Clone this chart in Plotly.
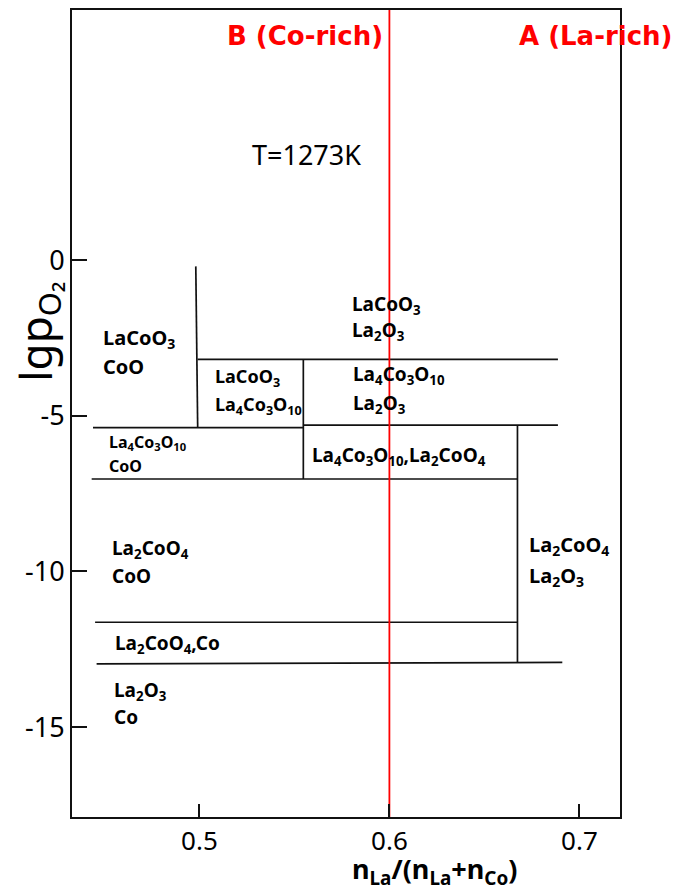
import plotly.graph_objects as go

# ---- data -------------------------------------------------------------
# phase-boundary segments (composition x, lg pO2 y)
seg_x0 = [0.4981, 0.4440, 0.4991, 0.5547, 0.5545, 0.6674, 0.4433, 0.4451, 0.4459]
seg_y0 = [-0.20, -5.38, -3.19, -3.19, -5.30, -5.30, -7.03, -11.63, -12.97]
seg_x1 = [0.4991, 0.5545, 0.6887, 0.5547, 0.6887, 0.6674, 0.6677, 0.6672, 0.6910]
seg_y1 = [-5.38, -5.38, -3.19, -7.03, -5.30, -12.91, -7.03, -11.63, -12.92]

# phase-field labels (one entry per text line)
label_text = [
    "LaCoO<sub>3</sub>", "CoO",
    "LaCoO<sub>3</sub>", "La<sub>4</sub>Co<sub>3</sub>O<sub>10</sub>",
    "La<sub>4</sub>Co<sub>3</sub>O<sub>10</sub>", "CoO",
    "LaCoO<sub>3</sub>", "La<sub>2</sub>O<sub>3</sub>",
    "La<sub>4</sub>Co<sub>3</sub>O<sub>10</sub>", "La<sub>2</sub>O<sub>3</sub>",
    "La<sub>4</sub>Co<sub>3</sub>O<sub>10</sub>,La<sub>2</sub>CoO<sub>4</sub>",
    "La<sub>2</sub>CoO<sub>4</sub>", "CoO",
    "La<sub>2</sub>CoO<sub>4</sub>,Co",
    "La<sub>2</sub>O<sub>3</sub>", "Co",
    "La<sub>2</sub>CoO<sub>4</sub>", "La<sub>2</sub>O<sub>3</sub>",
]
label_x = [0.4482, 0.4482, 0.5072, 0.5072, 0.4514, 0.4514, 0.5793, 0.5793,
           0.5798, 0.5798, 0.5582, 0.4529, 0.4529, 0.4545, 0.4540, 0.4540,
           0.6724, 0.6724]
label_y = [-2.52, -3.42, -3.76, -4.68, -5.87, -6.61, -1.43, -2.28,
           -3.69, -4.62, -6.29, -9.27, -10.13, -12.34, -13.83, -14.68,
           -9.17, -10.16]
label_size = [20, 20, 18, 18, 16, 16, 19, 19, 19, 19, 19, 19, 19, 19, 19, 19,
              20, 20]

x_ticks = [0.5, 0.6, 0.7]
x_ticktext = ["0.5", "0.6", "0.7"]
y_ticks = [0, -5, -10, -15]
y_ticktext = ["0", "-5", "-10", "-15"]

x_split = 0.6            # red composition line
temperature_text = "T=1273K"
temp_pos = (0.5565, 3.38)
b_text = "B (Co-rich)"
a_text = "A (La-rich)"
region_label_y = 7.19
b_right_x = 0.5977
a_left_x = 0.6673

x_range = [0.43295, 0.72137]
y_range = [-17.886, 8.035]

# ---- figure -----------------------------------------------------------
fig = go.Figure()

xs, ys = [], []
for a, b, c, d in zip(seg_x0, seg_y0, seg_x1, seg_y1):
    xs += [a, c, None]
    ys += [b, d, None]
fig.add_trace(go.Scatter(x=xs, y=ys, mode="lines",
                         line=dict(color="#111111", width=1.7),
                         hoverinfo="skip", showlegend=False))

fig.add_trace(go.Scatter(x=[x_split, x_split], y=y_range, mode="lines",
                         line=dict(color="#ff0000", width=1.8),
                         hoverinfo="skip", showlegend=False))

ann = []
for t, x, y, s in zip(label_text, label_x, label_y, label_size):
    ann.append(dict(x=x, y=y, xref="x", yref="y", text=t, showarrow=False,
                    xanchor="left", yanchor="middle",
                    font=dict(family="Noto Sans", size=s, color="black",
                              weight="bold")))

ann.append(dict(x=temp_pos[0], y=temp_pos[1], xref="x", yref="y",
                text=temperature_text, showarrow=False,
                xanchor="center", yanchor="middle",
                font=dict(family="Noto Sans", size=27, color="black")))
ann.append(dict(x=b_right_x, y=region_label_y, xref="x", yref="y",
                text=b_text, showarrow=False, xanchor="right", yanchor="middle",
                font=dict(family="DejaVu Sans", size=26, color="#ff0000",
                          weight="bold")))
ann.append(dict(x=a_left_x, y=region_label_y, xref="x", yref="y",
                text=a_text, showarrow=False, xanchor="left", yanchor="middle",
                font=dict(family="DejaVu Sans", size=26, color="#ff0000",
                          weight="bold")))
# axis titles
ann.append(dict(x=0.6606, y=-0.0665, xref="paper", yref="paper",
                text="n<sub>La</sub>/(n<sub>La</sub>+n<sub>Co</sub>)",
                showarrow=False, xanchor="center", yanchor="middle",
                font=dict(family="Noto Sans", size=27, color="black",
                          weight="bold")))
ann.append(dict(x=-0.062, y=-2.3, xref="paper", yref="y",
                text="lgp<sub>O\u2082</sub>",
                showarrow=False, textangle=-90, xanchor="center",
                yanchor="middle",
                font=dict(family="Noto Sans", size=44, color="black")))

fig.update_layout(
    width=675, height=892,
    margin=dict(l=72, r=55, t=8, b=75),
    paper_bgcolor="white", plot_bgcolor="white",
    annotations=ann,
    xaxis=dict(range=x_range, showgrid=False, zeroline=False,
               showline=True, linecolor="#111111", linewidth=2, mirror=True,
               ticks="inside", ticklen=13, tickwidth=1.5, tickcolor="#111111",
               tickvals=x_ticks, ticktext=x_ticktext,
               tickfont=dict(family="Noto Sans", size=26, color="black")),
    yaxis=dict(range=y_range, showgrid=False, zeroline=False,
               showline=True, linecolor="#111111", linewidth=2, mirror=True,
               ticks="inside", ticklen=15, tickwidth=1.5, tickcolor="#111111",
               tickvals=y_ticks, ticktext=y_ticktext,
               tickfont=dict(family="Noto Sans", size=27, color="black")),
)

fig.write_html("out.html")
